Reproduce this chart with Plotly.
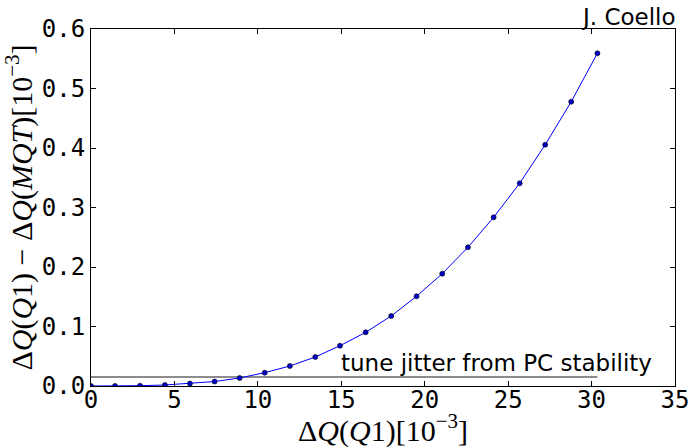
import plotly.graph_objects as go

# Data
dq_q1 = [0.0, 1.44, 2.94, 4.43, 5.93, 7.41, 8.91, 10.41, 11.92, 13.44, 14.92,
         16.46, 17.99, 19.51, 21.05, 22.59, 24.13, 25.69, 27.22, 28.78, 30.35]
dq_diff = [0.0, 0.0001, 0.0005, 0.0017, 0.0040, 0.0075, 0.0135, 0.0224, 0.0336,
           0.0487, 0.0677, 0.0902, 0.1176, 0.1508, 0.1887, 0.2331, 0.2835,
           0.3407, 0.4055, 0.4778, 0.5592]
jitter_x = [0.0, 30.35]
jitter_y = [0.0151, 0.0151]
x_ticks = [0, 5, 10, 15, 20, 25, 30, 35]
y_ticks = [0.0, 0.1, 0.2, 0.3, 0.4, 0.5, 0.6]

fig = go.Figure()
fig.add_trace(go.Scatter(x=jitter_x, y=jitter_y, mode="lines",
                         line=dict(color="#1a1a1a", width=1.2), showlegend=False))
fig.add_trace(go.Scatter(x=dq_q1, y=dq_diff, mode="lines+markers",
                         line=dict(color="#0000ff", width=1),
                         marker=dict(color="#0000cc", size=5,
                                     line=dict(color="#000000", width=0.6)),
                         showlegend=False))

tickfont = dict(family="DejaVu Sans Mono", size=24, color="#000000")
titlefont = dict(family="Liberation Serif", size=30, color="#000000")

fig.update_layout(
    width=691, height=448,
    margin=dict(l=91, r=16, t=29, b=62),
    paper_bgcolor="white", plot_bgcolor="white",
    xaxis=dict(range=[0, 35], tickvals=x_ticks, ticktext=[str(v) for v in x_ticks],
               ticks="inside", ticklen=5, tickcolor="#000000", tickwidth=1,
               showline=True, linecolor="#000000", linewidth=1, mirror="ticks",
               showgrid=False, zeroline=False, tickfont=tickfont,
               ticklabelstandoff=-8,
               automargin=False,
               title=dict(text="Δ<i>Q</i>(<i>Q</i>1)[10<sup>−3</sup>]",
                          font=titlefont, standoff=0)),
    yaxis=dict(range=[0, 0.6], tickvals=y_ticks, ticktext=[f"{v:.1f}" for v in y_ticks],
               ticks="inside", ticklen=5, tickcolor="#000000", tickwidth=1,
               showline=True, linecolor="#000000", linewidth=1, mirror="ticks",
               showgrid=False, zeroline=False, tickfont=tickfont,
               automargin=False,
               title=dict(text="Δ<i>Q</i>(<i>Q</i>1) − Δ<i>Q</i>(<i>MQT</i>)[10<sup>−3</sup>]",
                          font=titlefont, standoff=0)),
    annotations=[
        dict(x=15, y=0.0151, xref="x", yref="y", text="tune jitter from PC stability",
             showarrow=False, xanchor="left", yanchor="bottom", xshift=-2, yshift=-1,
             font=dict(family="DejaVu Sans", size=23, color="#000000")),
        dict(x=1, y=1, xref="paper", yref="paper", text="J. Coello",
             showarrow=False, xanchor="right", yanchor="bottom", xshift=3, yshift=-3,
             font=dict(family="DejaVu Sans", size=23, color="#000000")),
    ],
)

fig.write_html("out.html")
